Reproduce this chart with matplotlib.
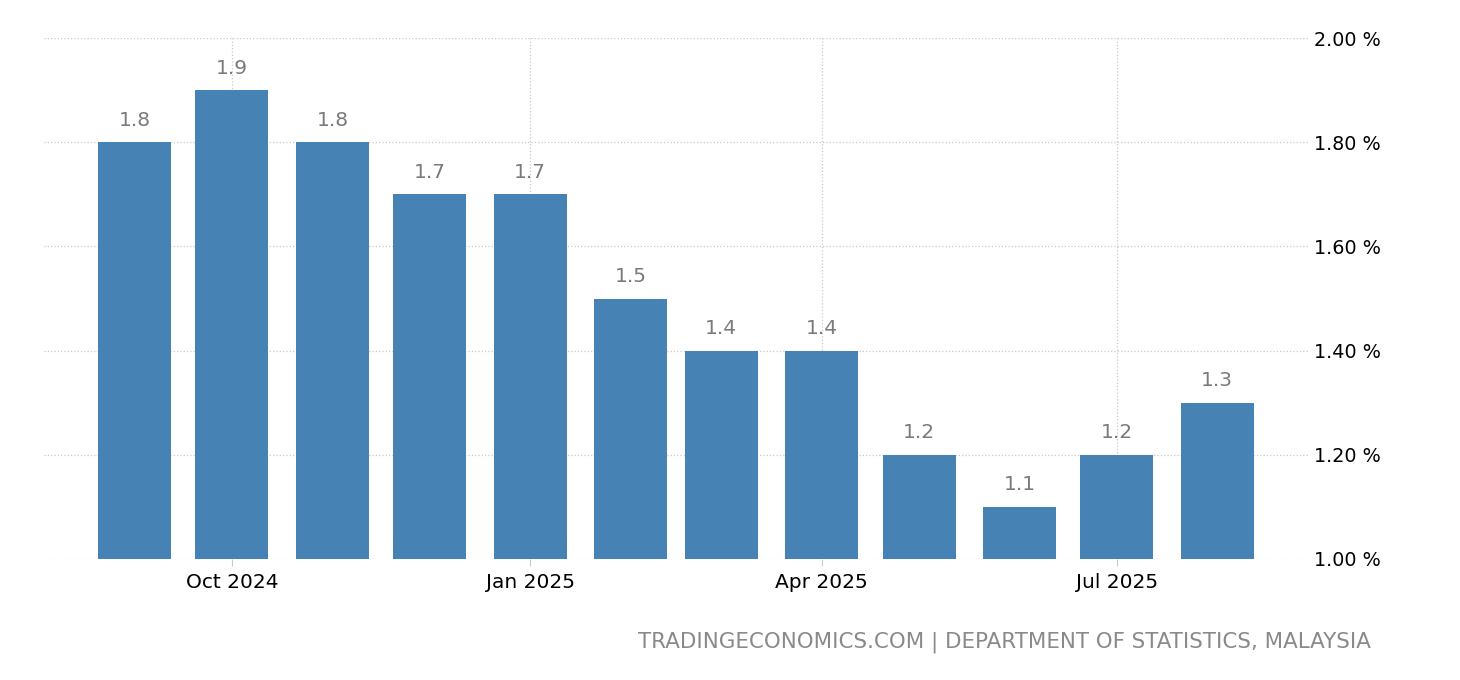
import matplotlib.pyplot as plt
import pandas as pd

months = pd.date_range("2024-09-01", "2025-08-01", freq="MS")
values = [1.8, 1.9, 1.8, 1.7, 1.7, 1.5, 1.4, 1.4, 1.2, 1.1, 1.2, 1.3]
tick_dates = pd.to_datetime(["2024-10-01", "2025-01-01", "2025-04-01", "2025-07-01"])
tick_labels = ["Oct 2024", "Jan 2025", "Apr 2025", "Jul 2025"]
y_ticks = [1.0, 1.2, 1.4, 1.6, 1.8, 2.0]
source = "TRADINGECONOMICS.COM | DEPARTMENT OF STATISTICS, MALAYSIA"

plt.rcParams['font.family'] = ['DejaVu Sans']

fig = plt.figure(figsize=(14.6, 6.8), dpi=100)
ax = fig.add_axes([0.0301, 0.178, 0.8658, 0.766])

ax.bar(months, values, width=22.5, color='#4682b4', zorder=3)
for d, v in zip(months, values):
    ax.annotate(f"{v:.1f}", (d, v), xytext=(0, 9), textcoords='offset points',
                ha='center', va='bottom', color='#7a7a7a', fontsize=14.5)

ax.set_xlim(pd.Timestamp("2024-08-04"), pd.Timestamp("2025-08-29"))
ax.set_ylim(1.0, 2.0)
ax.set_xticks(tick_dates)
ax.set_xticklabels(tick_labels)
ax.set_yticks(y_ticks)
ax.set_yticklabels([f"{t:.2f} %" for t in y_ticks])
ax.yaxis.tick_right()

ax.grid(True, linestyle=':', color='#c8c8c8', linewidth=0.9, zorder=0)
for s in ax.spines.values():
    s.set_visible(False)
ax.tick_params(axis='y', length=0, pad=4, labelsize=13.8, labelcolor='black')
ax.tick_params(axis='x', length=5, color='#c8c8c8', pad=5, labelsize=14.5, labelcolor='black')

fig.text(0.939, 0.055, source, ha='right', va='center', color='#8a8a8a', fontsize=15.4)

fig.savefig("out.png", dpi=100)
